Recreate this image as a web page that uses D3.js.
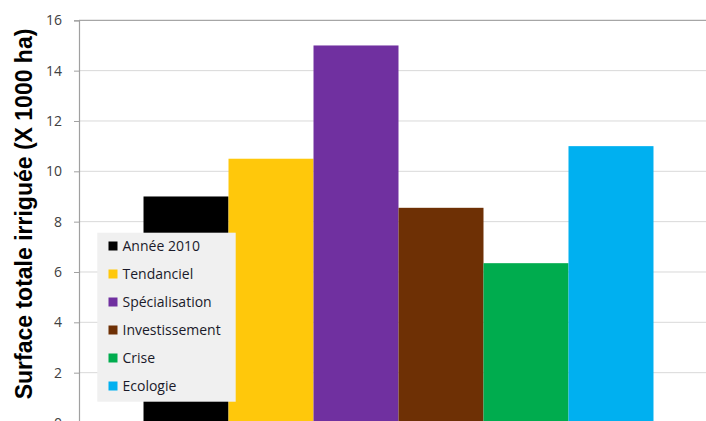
<!DOCTYPE html>
<html><head><meta charset="utf-8">
<script src="https://cdn.jsdelivr.net/npm/d3@7"></script>
<style>body{margin:0;background:#fff}svg{display:block}</style>
</head><body>
<script>
const seriesNames = ["Année 2010","Tendanciel","Spécialisation","Investissement","Crise","Ecologie"];
const seriesValues = [9, 10.5, 15, 8.55, 6.35, 11];
const seriesColors = ["#000000","#FFC80B","#7030A0","#6E3005","#00AC4E","#00B0F0"];
const yTicks = [0,2,4,6,8,10,12,14,16];
const yTitle = "Surface totale irriguée (X 1000 ha)";

(function(){
const W = 706, H = 421;
const svg = d3.select("body").append("svg").attr("width", W).attr("height", H);
const pL = 79, pR = 718, pT = 20.3, pB = 423;

const y = d3.scaleLinear().domain([0,16]).range([pB, pT]);
const x0 = d3.scaleBand().domain(["g"]).range([pL, pR]).paddingOuter(0.1265);
const x1 = d3.scaleBand().domain(seriesNames).range([0, x0.bandwidth()]);

svg.append("g").selectAll("line").data(yTicks.filter(t=>t>0 && t<16)).join("line")
  .attr("x1", pL).attr("x2", pR).attr("y1", d=>y(d)).attr("y2", d=>y(d))
  .attr("stroke", "#d9d9d9").attr("stroke-width", 1);
svg.append("line").attr("x1", pL).attr("x2", pR).attr("y1", y(16)).attr("y2", y(16))
  .attr("stroke", "#a6a6a6").attr("stroke-width", 1.2);

svg.append("g").selectAll("rect").data(seriesNames).join("rect")
  .attr("x", (d)=>x0("g") + x1(d))
  .attr("width", x1.bandwidth())
  .attr("y", (d,i)=>y(seriesValues[i]))
  .attr("height", (d,i)=>pB - y(seriesValues[i]))
  .attr("fill", (d,i)=>seriesColors[i]);

const ax = svg.append("g").attr("transform", `translate(${pL},0)`)
  .call(d3.axisLeft(y).tickValues(yTicks).tickSize(5).tickPadding(12).tickFormat(d3.format("d")));
ax.select(".domain").attr("stroke", "#a0a0a0").attr("stroke-width", 1.2);
ax.selectAll(".tick line").attr("stroke", "#a0a0a0");
ax.selectAll(".tick text").attr("fill", "#404040").attr("font-family", "Open Sans, sans-serif").attr("font-size", 14);

svg.append("text").attr("transform", `translate(32,214) rotate(-90)`)
  .attr("text-anchor", "middle").attr("font-family", "Liberation Sans, Arial, sans-serif")
  .attr("font-weight", "bold").attr("font-size", 23).attr("fill", "#000").text(yTitle);

const lg = svg.append("g");
lg.append("rect").attr("x", 97.3).attr("y", 232.7).attr("width", 138.4).attr("height", 169)
  .attr("fill", "#f0f0f0");
const items = lg.selectAll("g.item").data(seriesNames).join("g").attr("class","item")
  .attr("transform", (d,i)=>`translate(0,${246 + i*28})`);
items.append("rect").attr("x", 108.5).attr("y", -4.5).attr("width", 9).attr("height", 9)
  .attr("fill", (d,i)=>seriesColors[i]);
items.append("text").attr("x", 122.5).attr("y", 0).attr("dy", "0.36em")
  .attr("font-family", "Open Sans, sans-serif").attr("font-size", 14).attr("fill", "#1a1a2a")
  .text(d=>d);
})();
</script>
</body></html>
